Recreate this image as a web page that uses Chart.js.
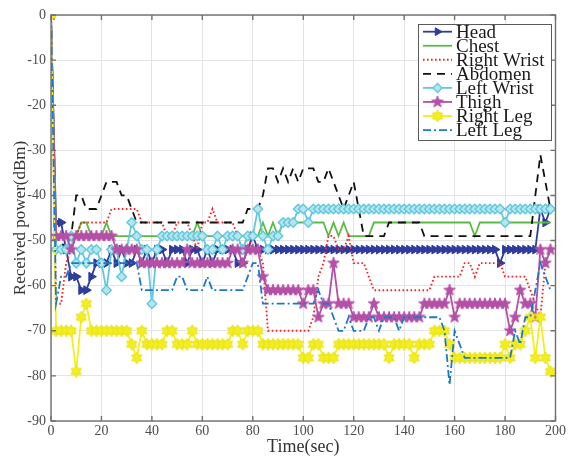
<!DOCTYPE html>
<html>
<head>
<meta charset="utf-8">
<script src="https://cdn.jsdelivr.net/npm/chart.js@4.4.0/dist/chart.umd.min.js"></script>
<style>
  body { margin: 0; background: #fff; }
  canvas { display: block; }
</style>
</head>
<body>
<canvas id="myChart" width="568" height="459"></canvas>
<script>
// sample times (sec), one reading every 2 s
var times = [
    0, 2, 4, 6, 8, 10, 12, 14, 16, 18,
    20, 22, 24, 26, 28, 30, 32, 34, 36, 38,
    40, 42, 44, 46, 48, 50, 52, 54, 56, 58,
    60, 62, 64, 66, 68, 70, 72, 74, 76, 78,
    80, 82, 84, 86, 88, 90, 92, 94, 96, 98,
    100, 102, 104, 106, 108, 110, 112, 114, 116, 118,
    120, 122, 124, 126, 128, 130, 132, 134, 136, 138,
    140, 142, 144, 146, 148, 150, 152, 154, 156, 158,
    160, 162, 164, 166, 168, 170, 172, 174, 176, 178,
    180, 182, 184, 186, 188, 190, 192, 194, 196, 198
];

// received power (dBm) per body location
var head = [
    0, -46, -46, -52, -58, -58, -61, -61, -58, -55,
    -55, -55, -52, -55, -52, -55, -55, -52, -55, -52,
    -55, -52, -52, -55, -52, -52, -52, -55, -52, -52,
    -55, -52, -55, -52, -52, -52, -52, -55, -55, -52,
    -49, -52, -52, -52, -52, -52, -52, -52, -52, -52,
    -52, -52, -52, -52, -52, -52, -52, -52, -52, -52,
    -52, -52, -52, -52, -52, -52, -52, -52, -52, -52,
    -52, -52, -52, -52, -52, -52, -52, -52, -52, -52,
    -52, -52, -52, -52, -52, -52, -52, -52, -52, -55,
    -52, -52, -52, -52, -52, -52, -52, -43, -46, -43
];
var chest = [
    0, -49, -49, -49, -49, -49, -46, -46, -49, -49,
    -49, -46, -49, -49, -49, -49, -49, -49, -49, -49,
    -49, -49, -49, -49, -49, -49, -49, -49, -49, -46,
    -49, -49, -49, -49, -49, -49, -49, -49, -49, -49,
    -49, -49, -46, -49, -46, -49, -46, -46, -46, -46,
    -46, -46, -46, -46, -46, -49, -46, -49, -46, -49,
    -49, -49, -49, -49, -46, -46, -46, -46, -46, -46,
    -46, -46, -46, -46, -46, -46, -46, -46, -46, -46,
    -46, -46, -46, -46, -49, -46, -46, -46, -46, -46,
    -46, -46, -46, -46, -46, -46, -46, -46, -46, -46
];
var rightWrist = [
    0, -64, -64, -55, -52, -49, -46, -46, -46, -46,
    -46, -46, -43, -43, -43, -43, -43, -43, -46, -46,
    -46, -46, -46, -49, -49, -46, -46, -46, -49, -52,
    -46, -46, -43, -46, -46, -46, -46, -49, -52, -49,
    -52, -52, -55, -70, -70, -70, -70, -70, -70, -70,
    -70, -70, -67, -58, -55, -49, -49, -52, -52, -49,
    -55, -55, -55, -58, -61, -61, -61, -61, -61, -61,
    -61, -61, -61, -61, -61, -61, -58, -58, -58, -58,
    -58, -58, -55, -55, -58, -55, -55, -55, -55, -55,
    -58, -58, -58, -58, -58, -61, -64, -67, -55, -52
];
var abdomen = [
    0, -52, -52, -49, -49, -40, -40, -43, -43, -43,
    -40, -37, -37, -37, -40, -40, -43, -46, -46, -46,
    -46, -46, -46, -46, -46, -46, -46, -46, -46, -46,
    -46, -46, -46, -46, -46, -46, -46, -46, -46, -43,
    -43, -43, -40, -34, -34, -37, -34, -37, -34, -37,
    -34, -34, -34, -37, -37, -34, -37, -40, -43, -40,
    -37, -43, -49, -49, -49, -49, -49, -46, -46, -46,
    -46, -46, -46, -46, -49, -49, -49, -49, -49, -49,
    -49, -49, -49, -49, -49, -49, -49, -49, -49, -49,
    -49, -49, -49, -49, -49, -49, -40, -31, -37, -43
];
var leftWrist = [
    0, -52, -52, -52, -49, -55, -52, -55, -52, -52,
    -55, -61, -52, -52, -58, -52, -46, -49, -52, -52,
    -64, -52, -49, -49, -49, -49, -49, -49, -49, -49,
    -49, -52, -52, -49, -52, -49, -49, -49, -52, -49,
    -49, -43, -49, -52, -49, -49, -46, -46, -46, -43,
    -43, -46, -43, -43, -43, -43, -43, -43, -43, -43,
    -43, -43, -43, -43, -43, -43, -43, -43, -43, -43,
    -43, -43, -43, -43, -43, -43, -43, -43, -43, -43,
    -43, -43, -43, -43, -43, -43, -43, -43, -43, -43,
    -46, -43, -43, -43, -43, -43, -43, -43, -43, -43
];
var thigh = [
    0, -49, -49, -49, -52, -49, -49, -49, -49, -49,
    -49, -49, -49, -52, -52, -52, -52, -52, -55, -55,
    -55, -55, -55, -55, -55, -55, -55, -52, -55, -55,
    -55, -55, -55, -55, -55, -55, -52, -52, -55, -52,
    -52, -52, -58, -61, -61, -61, -61, -61, -61, -61,
    -64, -61, -61, -67, -64, -64, -55, -64, -64, -64,
    -67, -67, -67, -67, -64, -67, -67, -67, -67, -67,
    -67, -67, -67, -67, -64, -64, -64, -64, -64, -61,
    -67, -64, -64, -64, -64, -64, -64, -64, -64, -64,
    -64, -70, -67, -61, -64, -64, -67, -52, -55, -52
];
var rightLeg = [
    0, -70, -70, -70, -70, -79, -67, -64, -70, -70,
    -70, -70, -70, -70, -70, -70, -73, -76, -70, -73,
    -73, -73, -73, -70, -70, -73, -73, -73, -70, -73,
    -73, -73, -73, -73, -73, -73, -70, -70, -73, -70,
    -70, -70, -73, -73, -73, -73, -73, -73, -73, -73,
    -76, -76, -73, -73, -76, -76, -76, -73, -73, -73,
    -73, -73, -73, -73, -73, -73, -73, -76, -73, -73,
    -73, -73, -76, -73, -73, -73, -70, -70, -70, -73,
    -76, -76, -76, -76, -76, -76, -76, -76, -76, -76,
    -73, -76, -73, -73, -70, -67, -76, -67, -76, -79
];
var leftLeg = [
    0, -64, -58, -58, -55, -55, -55, -55, -55, -55,
    -55, -55, -55, -55, -55, -55, -55, -55, -61, -61,
    -61, -61, -61, -61, -61, -58, -58, -61, -61, -61,
    -61, -58, -61, -61, -61, -61, -61, -61, -61, -58,
    -55, -55, -64, -64, -64, -64, -64, -64, -64, -64,
    -64, -64, -64, -61, -64, -64, -67, -70, -70, -67,
    -70, -70, -70, -67, -67, -70, -67, -67, -67, -70,
    -67, -67, -67, -67, -67, -67, -67, -67, -70, -82,
    -70, -73, -76, -76, -76, -76, -76, -76, -76, -76,
    -76, -76, -70, -73, -67, -67, -61, -55, -58, -61
];

var SERIF = '"Liberation Serif", "Times New Roman", serif';

// filled star markers (pentagram / hexagram) drawn once onto small canvases
function starMarker(points, inner, radius, fill, stroke) {
    var s = Math.ceil(radius * 2 + 2);
    var c = document.createElement('canvas');
    c.width = s;
    c.height = s;
    var g = c.getContext('2d');
    g.beginPath();
    for (var i = 0; i < points * 2; i++) {
        var r = i % 2 ? radius * inner : radius;
        var a = -Math.PI / 2 + i * Math.PI / points;
        var px = s / 2 + r * Math.cos(a), py = s / 2 + r * Math.sin(a);
        if (i === 0) g.moveTo(px, py); else g.lineTo(px, py);
    }
    g.closePath();
    g.fillStyle = fill;
    g.fill();
    g.strokeStyle = stroke;
    g.lineWidth = 1;
    g.stroke();
    return c;
}

var pentagram = starMarker(5, 0.42, 6, '#b450a6', '#b450a6');
var hexagram = starMarker(6, 0.58, 6, '#f4ee1e', '#e8e218');

function series(label, values, color, extra) {
    var ds = {
        label: label,
        data: values.map(function (v, i) { return { x: times[i], y: v }; }),
        borderColor: color,
        backgroundColor: color,
        borderWidth: 1.8,
        pointRadius: 0,
        pointHoverRadius: 0,
        tension: 0,
        fill: false
    };
    for (var k in extra) ds[k] = extra[k];
    return ds;
}

var datasets = [
    series('Head', head, '#2e3c9c', {
        pointStyle: 'triangle', rotation: 90, pointRadius: 5,
        pointBackgroundColor: '#2e3c9c', pointBorderColor: '#2e3c9c', pointBorderWidth: 1
    }),
    series('Chest', chest, '#5cba44', {}),
    series('Right Wrist', rightWrist, '#ff1f1f', { borderDash: [1.6, 2.4], borderWidth: 1.9 }),
    series('Abdomen', abdomen, '#111111', { borderDash: [8, 6] }),
    series('Left Wrist', leftWrist, '#63c8dc', {
        pointStyle: 'rectRot', pointRadius: 4.8,
        pointBackgroundColor: '#b3e6ef', pointBorderColor: '#63c8dc', pointBorderWidth: 1.4
    }),
    series('Thigh', thigh, '#b450a6', { pointStyle: pentagram, pointRadius: 5 }),
    series('Right Leg', rightLeg, '#f4ee1e', { pointStyle: hexagram, pointRadius: 5 }),
    series('Left Leg', leftLeg, '#1f78c6', { borderDash: [8, 3, 2, 3] })
];
// later series sit on top of earlier ones
datasets.forEach(function (ds, i) { ds.order = datasets.length - i; });

// axes box, inward tick marks and the boxed legend in the upper right
var axesBox = {
    id: 'axesBox',
    afterDraw: function (chart) {
        var ctx = chart.ctx, a = chart.chartArea;
        var xs = chart.scales.x, ys = chart.scales.y;
        ctx.save();
        ctx.strokeStyle = '#707070';
        ctx.lineWidth = 1.4;
        ctx.strokeRect(a.left, a.top, a.right - a.left, a.bottom - a.top);

        ctx.beginPath();
        xs.ticks.forEach(function (t) {
            var px = xs.getPixelForValue(t.value);
            ctx.moveTo(px, a.bottom); ctx.lineTo(px, a.bottom - 5);
            ctx.moveTo(px, a.top); ctx.lineTo(px, a.top + 5);
        });
        ys.ticks.forEach(function (t) {
            var py = ys.getPixelForValue(t.value);
            ctx.moveTo(a.left, py); ctx.lineTo(a.left + 5, py);
            ctx.moveTo(a.right, py); ctx.lineTo(a.right - 5, py);
        });
        ctx.stroke();

        // legend
        var bx = 418, by = 24, bw = 133, bh = 116;
        ctx.fillStyle = '#ffffff';
        ctx.fillRect(bx, by, bw, bh);
        ctx.strokeStyle = '#5a5a5a';
        ctx.lineWidth = 1;
        ctx.strokeRect(bx + 0.5, by + 0.5, bw, bh);
        ctx.font = '19px ' + SERIF;
        ctx.textBaseline = 'middle';
        chart.data.datasets.forEach(function (ds, i) {
            var y = 31.7 + i * 14.05;
            ctx.save();
            ctx.strokeStyle = ds.borderColor;
            ctx.lineWidth = ds.borderWidth;
            ctx.setLineDash(ds.borderDash || []);
            ctx.beginPath();
            ctx.moveTo(423, y);
            ctx.lineTo(452, y);
            ctx.stroke();
            ctx.setLineDash([]);
            if (ds.pointRadius > 0) {
                ctx.fillStyle = ds.pointBackgroundColor || ds.borderColor;
                ctx.strokeStyle = ds.pointBorderColor || ds.borderColor;
                ctx.lineWidth = ds.pointBorderWidth || 1;
                Chart.helpers.drawPoint(ctx, {
                    pointStyle: ds.pointStyle,
                    rotation: ds.rotation || 0,
                    radius: Math.min(ds.pointRadius, 4.5),
                    borderWidth: ds.pointBorderWidth || 1
                }, 437.5, y);
            }
            ctx.restore();
            ctx.fillStyle = '#1a1a1a';
            ctx.fillText(ds.label, 456, y + 1);
        });
        ctx.restore();
    }
};

var ctx = document.getElementById('myChart').getContext('2d');
var myChart = new Chart(ctx, {
    type: 'line',
    data: { datasets: datasets },
    plugins: [axesBox],
    options: {
        responsive: false,
        animation: false,
        events: [],
        layout: { padding: { top: 15, right: 12, left: 0, bottom: 0 } },
        plugins: {
            legend: { display: false },
            tooltip: { enabled: false }
        },
        scales: {
            x: {
                type: 'linear',
                min: 0,
                max: 200,
                ticks: { stepSize: 20, padding: 2, color: '#4d4d4d', font: { family: SERIF, size: 14 } },
                grid: { color: '#e4e4e4', drawTicks: false },
                border: { display: false },
                title: {
                    display: true, text: 'Time(sec)', color: '#333333',
                    font: { family: SERIF, size: 18 }, padding: { top: 0, bottom: 1 }
                },
                afterFit: function (s) { s.height = 38; }
            },
            y: {
                min: -90,
                max: 0,
                ticks: { stepSize: 10, padding: 5, color: '#4d4d4d', font: { family: SERIF, size: 14 } },
                grid: { color: '#e4e4e4', drawTicks: false },
                border: { display: false },
                title: {
                    display: true, text: 'Received power(dBm)', color: '#333333',
                    font: { family: SERIF, size: 17 }, padding: { top: 10, bottom: 0 }
                },
                afterFit: function (s) { s.width = 51; }
            }
        }
    }
});
</script>
</body>
</html>
